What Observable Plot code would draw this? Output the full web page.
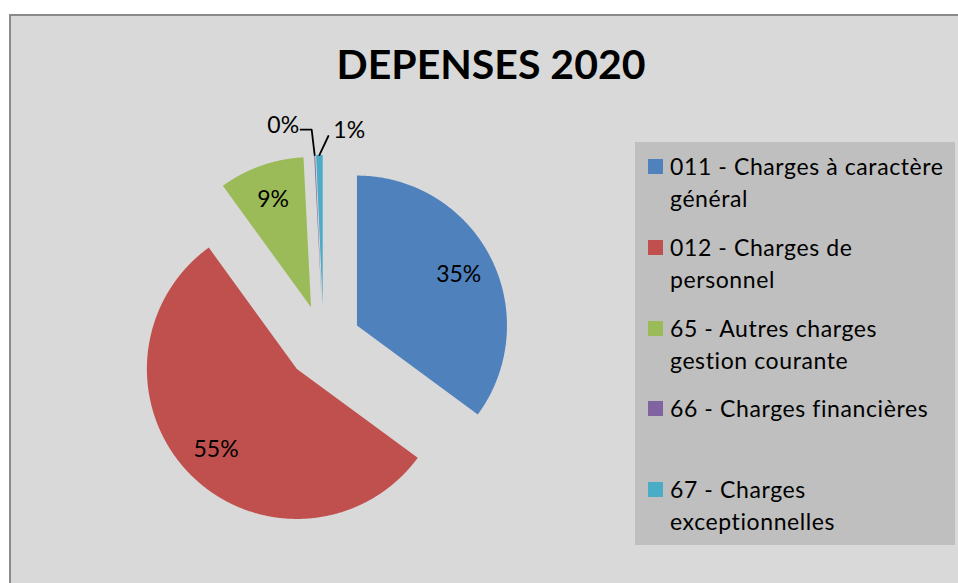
<!DOCTYPE html>
<html>
<head>
<meta charset="utf-8">
<script src="https://cdn.jsdelivr.net/npm/d3@7"></script>
<script src="https://cdn.jsdelivr.net/npm/@observablehq/plot@0.6"></script>
<style>
  html, body { margin: 0; padding: 0; background: #ffffff; width: 958px; height: 583px; overflow: hidden; }
  * { font-variant-ligatures: none; font-feature-settings: "liga" 0, "clig" 0; }
  #frame { position: absolute; left: 9px; top: 14px; width: 980px; height: 600px; background: #d9d9d9;
           border-left: 2px solid #8a8a8a; border-top: 2px solid #8a8a8a; box-sizing: border-box; }
  #title { position: absolute; left: 0; width: 982px; top: 43px; text-align: center; font-family: Lato, sans-serif;
           font-weight: 700; font-size: 41px; line-height: 41px; color: #000; }
  #pie { position: absolute; left: 20px; top: 100px; }
  #legend { position: absolute; left: 635px; top: 142px; width: 320px; height: 403px; background: #bfbfbf; }
  .item { position: absolute; left: 0; width: 320px; font-family: Lato, sans-serif; font-size: 23px; line-height: 32px;
          letter-spacing: 0.6px; color: #000; }
  .sw { position: absolute; left: 13px; top: 9px; width: 15px; height: 15px; }
  .txt { position: absolute; left: 35px; white-space: nowrap; }
</style>
</head>
<body>
<div id="frame"></div>
<div id="title">DEPENSES 2020</div>
<div id="pie"></div>
<div id="legend"></div>
<script>
// ---- data ----
const categories = [
  "011 - Charges à caractère général",
  "012 - Charges de personnel",
  "65 - Autres charges gestion courante",
  "66 - Charges financières",
  "67 - Charges exceptionnelles"
];
const legendLines = [
  ["011 - Charges à caractère", "général"],
  ["012 - Charges de", "personnel"],
  ["65 - Autres charges", "gestion courante"],
  ["66 - Charges financières"],
  ["67 - Charges", "exceptionnelles"]
];
const values = [35.1, 54.9, 9.2, 0.1, 0.7];
const colors = ["#4f81bd", "#c0504d", "#9bbb59", "#8064a2", "#4bacc6"];

// ---- layout parameters ----
const W = 560, H = 470, cx = 303, cy = 242, k = 150; // px per radius unit
const explode = 0.25;
const labelR = 0.76;
// outside labels for small slices: leader offsets relative to the slice tip (in radius units)
const outside = {
  3: {leader: [[0, 0], [-0.02, 0.17], [-0.094, 0.17]], label: [-0.104, 0.195], anchor: "end"},
  4: {leader: [[0, 0], [0.06, 0.127]], label: [0.093, 0.163], anchor: "start"}
};

const total = d3.sum(values);
const arcs = d3.pie().sort(null).value(d => d)(values);

const slicePts = [];
const labels = [];
const leaders = [];
arcs.forEach((a, i) => {
  const m = (a.startAngle + a.endAngle) / 2;
  const ox = explode * Math.sin(m), oy = explode * Math.cos(m);
  slicePts.push({cat: categories[i], x: ox, y: oy});
  const n = Math.max(2, Math.ceil((a.endAngle - a.startAngle) / 0.005));
  for (let j = 0; j <= n; j++) {
    const t = a.startAngle + (a.endAngle - a.startAngle) * j / n;
    slicePts.push({cat: categories[i], x: ox + Math.sin(t), y: oy + Math.cos(t)});
  }
  slicePts.push({cat: categories[i], x: ox, y: oy});
  const txt = Math.round(values[i] / total * 100) + "%";
  if (outside[i]) {
    const tx = ox + Math.sin(m), ty = oy + Math.cos(m);
    outside[i].leader.forEach(([dx, dy]) => leaders.push({id: i, x: tx + dx, y: ty + dy}));
    labels.push({x: tx + outside[i].label[0], y: ty + outside[i].label[1], text: txt, anchor: outside[i].anchor});
  } else {
    labels.push({x: ox + labelR * Math.sin(m), y: oy + labelR * Math.cos(m), text: txt, anchor: "middle"});
  }
});

const txtOpts = {x: "x", y: "y", text: "text", fontSize: 23, fontFamily: "Lato, sans-serif", fill: "#000"};
const chart = Plot.plot({
  width: W, height: H, margin: 0,
  x: {domain: [-cx / k, (W - cx) / k], axis: null},
  y: {domain: [-(H - cy) / k, cy / k], axis: null},
  color: {domain: categories, range: colors},
  style: {background: "transparent", overflow: "visible"},
  marks: [
    Plot.line(slicePts, {x: "x", y: "y", z: "cat", fill: "cat", stroke: "none", curve: "linear"}),
    Plot.line(leaders, {x: "x", y: "y", z: "id", stroke: "#000", strokeWidth: 1.8, curve: "linear"}),
    Plot.text(labels.filter(d => d.anchor === "middle"), {...txtOpts, textAnchor: "middle"}),
    Plot.text(labels.filter(d => d.anchor === "end"), {...txtOpts, textAnchor: "end"}),
    Plot.text(labels.filter(d => d.anchor === "start"), {...txtOpts, textAnchor: "start"})
  ]
});
document.getElementById("pie").appendChild(chart);

// legend
const legend = document.getElementById("legend");
legendLines.forEach((lines, i) => {
  const item = document.createElement("div");
  item.className = "item";
  item.style.top = (8 + i * 80.75) + "px";
  const sw = document.createElement("div");
  sw.className = "sw";
  sw.style.background = colors[i];
  const tx = document.createElement("div");
  tx.className = "txt";
  tx.innerHTML = lines.map(l => l.replace(/&/g, "&amp;").replace(/</g, "&lt;")).join("<br>");
  item.appendChild(sw);
  item.appendChild(tx);
  legend.appendChild(item);
});
</script>
</body>
</html>
